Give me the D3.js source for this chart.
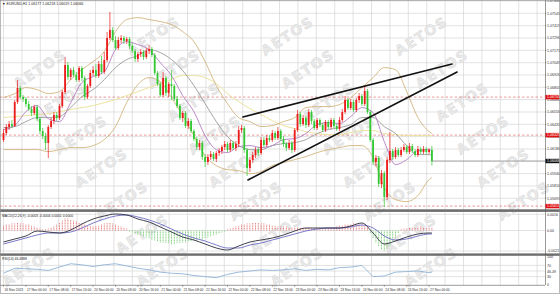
<!DOCTYPE html>
<html><head><meta charset="utf-8">
<script src="https://cdn.jsdelivr.net/npm/d3@7"></script>
<style>html,body{margin:0;padding:0;background:#fff;}svg{display:block;}</style>
</head><body>
<svg id="c" width="560" height="294"></svg>
<script>
// ---------------- DATA ----------------
const titleText = "EURUSD,H1  1.06177 1.06218 1.06019 1.06066";
const macdTitle = "MACD(12,26,9) -0.0003 -0.0004 0.0001 0.0000";
const rsiTitle = "RSI(14) 46.4888";

// hourly candles [open, high, low, close]
const candles = [
[1.06276,1.06386,1.06256,1.06346],[1.06346,1.06436,1.06326,1.06406],[1.06406,1.06466,1.06376,1.06436],[1.06436,1.06476,1.06396,1.06416],
[1.06416,1.06676,1.06406,1.06656],[1.06656,1.06876,1.06636,1.06796],[1.06796,1.06816,1.06686,1.06706],[1.06706,1.06726,1.06656,1.06686],
[1.06686,1.06706,1.06606,1.06636],[1.06636,1.06666,1.06566,1.06586],[1.06586,1.06616,1.06516,1.06546],[1.06546,1.06626,1.06526,1.06606],
[1.06606,1.06626,1.06466,1.06486],[1.06486,1.06506,1.06336,1.06366],[1.06366,1.06396,1.06286,1.06316],[1.06316,1.06346,1.06176,1.06246],
[1.06246,1.06426,1.06096,1.06406],[1.06406,1.06496,1.06386,1.06466],[1.06466,1.06556,1.06436,1.06526],[1.06526,1.06556,1.06466,1.06496],
[1.06496,1.06636,1.06476,1.06616],[1.06616,1.06776,1.06596,1.06756],[1.06756,1.07106,1.06736,1.07026],[1.07026,1.07056,1.06876,1.06906],
[1.06906,1.06996,1.06876,1.06976],[1.06976,1.07006,1.06906,1.06926],[1.06926,1.06956,1.06856,1.06876],[1.06876,1.07016,1.06856,1.06996],
[1.06996,1.07016,1.06866,1.06896],[1.06896,1.06916,1.06676,1.06706],[1.06706,1.06836,1.06686,1.06816],[1.06816,1.06976,1.06796,1.06946],
[1.06946,1.07016,1.06916,1.06976],[1.06976,1.07036,1.06896,1.06916],[1.06916,1.07066,1.06896,1.07036],[1.07036,1.07116,1.06936,1.06956],
[1.06956,1.07156,1.06936,1.07076],[1.07076,1.07356,1.07056,1.07296],[1.07296,1.07556,1.07276,1.07376],[1.07376,1.07406,1.07256,1.07276],
[1.07276,1.07316,1.07176,1.07196],[1.07196,1.07306,1.07176,1.07276],[1.07276,1.07326,1.07246,1.07296],[1.07296,1.07316,1.07236,1.07266],
[1.07266,1.07306,1.07236,1.07286],[1.07286,1.07306,1.07186,1.07216],[1.07216,1.07246,1.07146,1.07166],[1.07166,1.07186,1.07056,1.07086],
[1.07086,1.07156,1.07056,1.07136],[1.07136,1.07186,1.07106,1.07156],[1.07156,1.07176,1.07076,1.07106],[1.07106,1.07196,1.07086,1.07166],
[1.07166,1.07226,1.07136,1.07186],[1.07186,1.07206,1.07106,1.07126],[1.07126,1.07146,1.06926,1.06946],[1.06946,1.06966,1.06816,1.06836],
[1.06836,1.06856,1.06706,1.06726],[1.06726,1.06956,1.06706,1.06896],[1.06896,1.06916,1.06716,1.06746],[1.06746,1.06856,1.06706,1.06836],
[1.06836,1.06976,1.06676,1.06816],[1.06816,1.06836,1.06666,1.06686],[1.06686,1.06716,1.06596,1.06616],[1.06616,1.06636,1.06476,1.06496],
[1.06496,1.06566,1.06456,1.06546],[1.06546,1.06566,1.06396,1.06416],[1.06416,1.06496,1.06386,1.06466],[1.06466,1.06486,1.06346,1.06366],
[1.06366,1.06386,1.06266,1.06286],[1.06286,1.06306,1.06176,1.06206],[1.06206,1.06276,1.06176,1.06246],[1.06246,1.06266,1.06076,1.06106],
[1.06106,1.06136,1.06006,1.06056],[1.06056,1.06136,1.06026,1.06106],[1.06106,1.06166,1.06076,1.06136],[1.06136,1.06156,1.06066,1.06086],
[1.06086,1.06166,1.06056,1.06146],[1.06146,1.06196,1.06116,1.06166],[1.06166,1.06226,1.06136,1.06206],[1.06206,1.06266,1.06176,1.06236],
[1.06236,1.06256,1.06156,1.06176],[1.06176,1.06276,1.06156,1.06246],[1.06246,1.06266,1.06176,1.06196],[1.06196,1.06266,1.06166,1.06236],
[1.06236,1.06416,1.06206,1.06376],[1.06376,1.06426,1.06346,1.06396],[1.06396,1.06416,1.06146,1.06176],[1.06176,1.06196,1.05916,1.05996],
[1.05996,1.06106,1.05956,1.06076],[1.06076,1.06156,1.06046,1.06126],[1.06126,1.06206,1.06096,1.06176],[1.06176,1.06206,1.06116,1.06146],
[1.06146,1.06306,1.06126,1.06276],[1.06276,1.06306,1.06206,1.06226],[1.06226,1.06326,1.06206,1.06296],[1.06296,1.06326,1.06256,1.06276],
[1.06276,1.06376,1.06256,1.06346],[1.06346,1.06366,1.06276,1.06296],[1.06296,1.06406,1.06276,1.06366],[1.06366,1.06386,1.06266,1.06286],
[1.06286,1.06316,1.06206,1.06236],[1.06236,1.06256,1.06166,1.06196],[1.06196,1.06276,1.06176,1.06246],[1.06246,1.06266,1.06146,1.06176],
[1.06176,1.06396,1.06156,1.06376],[1.06376,1.06576,1.06356,1.06536],[1.06536,1.06556,1.06406,1.06436],[1.06436,1.06526,1.06416,1.06496],
[1.06496,1.06516,1.06396,1.06426],[1.06426,1.06586,1.06406,1.06556],[1.06556,1.06576,1.06436,1.06466],[1.06466,1.06486,1.06376,1.06396],
[1.06396,1.06496,1.06376,1.06476],[1.06476,1.06496,1.06406,1.06426],[1.06426,1.06446,1.06356,1.06376],[1.06376,1.06476,1.06356,1.06456],
[1.06456,1.06476,1.06386,1.06406],[1.06406,1.06496,1.06386,1.06476],[1.06476,1.06496,1.06396,1.06416],[1.06416,1.06436,1.06366,1.06386],
[1.06386,1.06506,1.06366,1.06476],[1.06476,1.06586,1.06456,1.06556],[1.06556,1.06716,1.06536,1.06676],[1.06676,1.06696,1.06576,1.06596],
[1.06596,1.06686,1.06576,1.06656],[1.06656,1.06676,1.06556,1.06576],[1.06576,1.06696,1.06556,1.06676],[1.06676,1.06746,1.06646,1.06716],
[1.06716,1.06736,1.06616,1.06636],[1.06636,1.06816,1.06616,1.06766],[1.06766,1.06786,1.06536,1.06556],[1.06556,1.06576,1.06256,1.06276],
[1.06276,1.06296,1.06026,1.06056],[1.06056,1.06126,1.06016,1.06096],[1.06096,1.06116,1.05806,1.05836],[1.05836,1.05976,1.05796,1.05946],
[1.05946,1.05966,1.05606,1.05706],[1.05706,1.06106,1.05676,1.06076],[1.06076,1.06356,1.06046,1.06166],[1.06166,1.06186,1.06076,1.06106],
[1.06106,1.06206,1.06086,1.06176],[1.06176,1.06196,1.06106,1.06126],[1.06126,1.06206,1.06106,1.06176],[1.06176,1.06236,1.06156,1.06206],
[1.06206,1.06226,1.06136,1.06156],[1.06156,1.06246,1.06136,1.06216],[1.06216,1.06236,1.06146,1.06166],[1.06166,1.06186,1.06106,1.06126],
[1.06126,1.06216,1.06106,1.06186],[1.06186,1.06206,1.06136,1.06156],[1.06156,1.06216,1.06136,1.06186],[1.06186,1.06206,1.06136,1.06156],
[1.06156,1.06196,1.06136,1.06176],[1.06177,1.06218,1.06019,1.06066]
];

const timeLabels = ["16 Nov 2023","17 Nov 00:00","17 Nov 08:00","17 Nov 16:00","20 Nov 00:00","20 Nov 08:00","20 Nov 16:00",
"21 Nov 00:00","21 Nov 08:00","21 Nov 16:00","22 Nov 00:00","22 Nov 08:00","22 Nov 16:00","23 Nov 00:00","23 Nov 08:00",
"23 Nov 16:00","24 Nov 00:00","24 Nov 08:00","24 Nov 16:00","27 Nov 00:00"];
const labelEvery = 8; // bars between time labels

const priceTicks = [1.07666,1.07543,1.07419,1.07296,1.07173,1.07049,1.06926,1.06803,1.06680,1.06556,1.06433,1.06310,1.06186,1.06063,1.05940,1.05816,1.05693];

// indicator readings sampled every 4 bars, plus the last bar
const sampleStep = 4;
const fastMA = [1.0638,1.0642,1.0656,1.0662,1.0649,1.0646,1.0665,1.0685,1.0691,1.0696,1.0718,1.0726,1.0723,1.0718,1.0705,1.0692,1.0672,1.0656,1.0632,1.0618,1.0615,1.0621,1.0622,1.0620,1.0622,1.0628,1.0629,1.0634,1.0643,1.0645,1.0644,1.0651,1.0660,1.0655,1.0626,1.0603,1.0608,1.0617,1.0618,1.0617];
const slowMA = [1.0640,1.0641,1.0646,1.0650,1.0650,1.0651,1.0660,1.0671,1.0678,1.0688,1.0700,1.0708,1.0712,1.0718,1.0715,1.0708,1.0697,1.0682,1.0664,1.0646,1.0631,1.0622,1.0618,1.0618,1.0622,1.0624,1.0625,1.0628,1.0634,1.0638,1.0640,1.0643,1.0650,1.0650,1.0641,1.0634,1.0622,1.0613,1.0613,1.0612];
const bbUpper = [1.0670,1.0674,1.0680,1.0678,1.0674,1.0676,1.0688,1.0698,1.0706,1.0716,1.0736,1.0748,1.0750,1.0748,1.0746,1.0743,1.0736,1.0726,1.0706,1.0682,1.0664,1.0650,1.0646,1.0641,1.0642,1.0646,1.0650,1.0660,1.0661,1.0661,1.0663,1.0670,1.0680,1.0690,1.0700,1.0698,1.0676,1.0650,1.0636,1.0634];
const bbLower = [1.0618,1.0618,1.0618,1.0618,1.0616,1.0618,1.0620,1.0620,1.0622,1.0628,1.0641,1.0665,1.0683,1.0690,1.0686,1.0670,1.0652,1.0632,1.0612,1.0602,1.0598,1.0597,1.0594,1.0596,1.0602,1.0605,1.0608,1.0611,1.0615,1.0618,1.0620,1.0622,1.0622,1.0610,1.0580,1.0568,1.0566,1.0572,1.0588,1.0590];
const longMA = [1.0650,1.0651,1.0652,1.0653,1.0654,1.0656,1.0658,1.0660,1.0662,1.0665,1.0668,1.0672,1.0676,1.0680,1.0684,1.0688,1.0692,1.0692,1.0690,1.0684,1.0674,1.0666,1.0659,1.0653,1.0647,1.0642,1.0639,1.0636,1.0634,1.0633,1.0633,1.0635,1.0637,1.0637,1.0634,1.0633,1.0632,1.0632,1.0632,1.0632];

const macdMain = [-0.00115,-0.00085,-0.00055,-0.00005,-0.00015,-0.00025,0.00005,0.00065,0.00115,0.00145,0.00165,0.00155,0.00115,0.00085,0.00035,-0.00015,-0.00065,-0.00095,-0.00135,-0.00175,-0.00195,-0.00155,-0.00115,-0.00095,-0.00075,-0.00045,-0.00005,0.00025,0.00025,0.00025,0.00025,0.00045,0.00075,-0.00025,-0.00135,-0.00105,-0.00065,-0.00035,-0.00025,-0.00025];
const macdSignal = [-0.00135,-0.00105,-0.00075,-0.00045,-0.00025,-0.00025,-0.00015,0.00025,0.00075,0.00115,0.00145,0.00155,0.00135,0.00105,0.00065,0.00015,-0.00035,-0.00075,-0.00105,-0.00145,-0.00175,-0.00175,-0.00145,-0.00125,-0.00095,-0.00065,-0.00035,-0.00005,0.00015,0.00025,0.00025,0.00035,0.00055,0.00025,-0.00055,-0.00095,-0.00085,-0.00055,-0.00035,-0.00035];
const macdHist = [
0.0005,0.0006,0.0006,0.0007,0.0007,0.0008,0.0007,0.0007,0.0006,0.0006,0.0005,0.0004,
0.0003,0.0002,0.0001,0.0001,0.0002,0.0003,0.0004,
0.0006,0.0008,0.0010,0.0012,0.0012,0.0011,0.0010,0.0009,0.0008,
0.0007,0.0006,0.0005,0.0005,0.0004,0.0004,0.0005,
0.0006,0.0007,0.0008,0.0008,0.0007,0.0006,0.0005,0.0004,0.0003,0.0002,
-0.0001,-0.0002,-0.0003,-0.0004,-0.0005,-0.0006,-0.0007,-0.0008,-0.0009,-0.0010,-0.0011,-0.0012,-0.0012,-0.0013,-0.0013,-0.0014,-0.0014,-0.0013,-0.0013,-0.0012,-0.0012,-0.0011,-0.0011,-0.0010,-0.0010,-0.0009,-0.0009,-0.0008,-0.0007,-0.0006,-0.0005,-0.0004,-0.0003,-0.0002,-0.0001,
0.0001,0.0002,0.0003,0.0004,0.0005,0.0006,0.0006,0.0007,0.0007,0.0008,0.0008,0.0008,0.0007,0.0007,0.0006,0.0006,0.0005,0.0005,0.0004,0.0004,
0.0004,0.0004,0.0003,0.0003,0.0003,0.0003,0.0003,0.0003,0.0003,0.0003,0.0002,0.0002,0.0002,0.0002,0.0002,0.0002,0.0003,0.0003,0.0003,
0.0004,0.0005,0.0005,0.0006,0.0006,0.0006,0.0007,0.0007,0.0006,0.0006,0.0005,0.0004,
-0.0003,-0.0008,-0.0012,-0.0016,-0.0019,-0.0020,-0.0018,-0.0015,-0.0011,-0.0007,-0.0003,
0.0001,0.0002,0.0002,0.0003,0.0003,0.0003,0.0004,0.0004,0.0003,0.0003,0.0003,0.0003];
const macdTicks = [0.00162, 0, -0.00205];
const macdTickLabels = ["0.0016", "0.00", "-0.0021"];

const rsiValues = [42,60,58,56,52,64,76,72,66,72,76,68,60,54,46,42,40,34,30,26,38,46,50,54,52,54,58,52,56,54,62,64,70,30,32,46,48,50,44,46.49];
const rsiTicks = [100, 70, 30, 0];
const rsiLevels = [70, 30];

const levelLines = [1.06705, 1.06325, 1.05615];
// trendlines: [startBar, startPrice, endBar, endPrice]
const trendLines = [[85.5, 1.06506, 160.2, 1.07036], [87.3, 1.05876, 162.0, 1.06956]];

// ---------------- LAYOUT ----------------
const W = 560, H = 294;
const plotR = 545;
const main = {top: 0, bot: 209};
const macdP = {top: 212.5, bot: 253};
const rsiP = {top: 256, bot: 285};
const barSpacing = 2.8, firstBarX = 3.5;
const gridStepX = 18.4;

const svg = d3.select("#c");
const x = d3.scaleLinear().domain([0, 1]).range([firstBarX, firstBarX + barSpacing]);
const yMain = d3.scaleLinear().domain([1.05586, 1.07676]).range([main.bot, main.top]);
const yMacd = d3.scaleLinear().domain([-0.00225, 0.00185]).range([253, 212]);
const yRsi = d3.scaleLinear().domain([0, 100]).range([285, 257]);

const N = candles.length;
const sampleBars = d3.range(0, N, sampleStep); sampleBars.push(N - 1);

svg.append("rect").attr("width", W).attr("height", H).attr("fill", "#fff");

const defs = svg.append("defs");
[["cMain", main], ["cMacd", macdP], ["cRsi", rsiP]].forEach(([id, p]) => {
  defs.append("clipPath").attr("id", id).append("rect")
    .attr("x", 0).attr("y", p.top).attr("width", plotR).attr("height", p.bot - p.top);
});

// grid
const grid = svg.append("g").attr("stroke", "#d6d6d6").attr("stroke-width", 0.7);
const gx = d3.range(0, 40).map(k => firstBarX + gridStepX * k).filter(v => v < plotR);
[main, macdP, rsiP].forEach(p => {
  gx.forEach(v => grid.append("line").attr("x1", v).attr("x2", v).attr("y1", p.top).attr("y2", p.bot));
});
priceTicks.forEach(p => grid.append("line").attr("x1", 0).attr("x2", plotR).attr("y1", yMain(p)).attr("y2", yMain(p)));
macdTicks.forEach(v => grid.append("line").attr("x1", 0).attr("x2", plotR).attr("y1", yMacd(v)).attr("y2", yMacd(v)));
rsiLevels.concat([50]).forEach(v => grid.append("line").attr("x1", 0).attr("x2", plotR).attr("y1", yRsi(v)).attr("y2", yRsi(v)));

// watermark (only whole words, none cut by the picture edge)
const wm = svg.append("g").attr("fill", "#e9e9e9").attr("stroke", "#d2d2d2").attr("stroke-width", 0.35)
  .attr("font-family", "DejaVu Sans").attr("font-weight", "bold").attr("font-size", 14)
  .attr("letter-spacing", 1.5).attr("text-anchor", "middle");
for (let k = -3; k <= 5; k++) {
  for (let j = -2; j <= 10; j++) {
    const cx = 22 + 134 * k + 20.5 * j, cy = 35 + 33 * j;
    if (cx < 27 || cx > 533 || cy < 19 || cy > 276) continue;
    wm.append("text").attr("transform", `translate(${cx},${cy + 5}) rotate(-33)`).text("AETOS");
  }
}

// ---- main panel ----
const gm = svg.append("g").attr("clip-path", "url(#cMain)");
levelLines.forEach(p => gm.append("line").attr("x1", 0).attr("x2", plotR)
  .attr("y1", yMain(p)).attr("y2", yMain(p)).attr("stroke", "#e27070").attr("stroke-width", 0.7).attr("stroke-dasharray", "2.5,2"));

const lineMain = d3.line().x((d, i) => x(sampleBars[i])).y(d => yMain(d)).curve(d3.curveMonotoneX);
[[longMA, "#ece3a0", 1], [bbUpper, "#d3b47e", 0.9], [bbLower, "#d3b47e", 0.9],
 [slowMA, "#9a9a9a", 0.9], [fastMA, "#b27cc2", 0.9]].forEach(([arr, col, w]) => {
  gm.append("path").attr("d", lineMain(arr)).attr("fill", "none").attr("stroke", col).attr("stroke-width", w);
});

const up = "#ec1c1c", dn = "#34c934";
const cg = gm.append("g");
candles.forEach((c, i) => {
  const [o, h, l, cl] = c;
  const col = cl >= o ? up : dn;
  const cx = x(i);
  cg.append("line").attr("x1", cx).attr("x2", cx).attr("y1", yMain(h)).attr("y2", yMain(l))
    .attr("stroke", col).attr("stroke-width", 0.7);
  const y1 = yMain(Math.max(o, cl)), y2 = yMain(Math.min(o, cl));
  cg.append("rect").attr("x", cx - 0.9).attr("width", 1.8).attr("y", y1).attr("height", Math.max(0.7, y2 - y1)).attr("fill", col);
});

// bid line
const last = candles[N - 1][3];
gm.append("line").attr("x1", x(N - 1)).attr("x2", plotR).attr("y1", yMain(last)).attr("y2", yMain(last))
  .attr("stroke", "#777").attr("stroke-width", 0.6);

// trendlines
trendLines.forEach(t => gm.append("line").attr("x1", x(t[0])).attr("y1", yMain(t[1])).attr("x2", x(t[2])).attr("y2", yMain(t[3]))
  .attr("stroke", "#111").attr("stroke-width", 1.6).attr("stroke-linecap", "round"));

// ---- MACD panel ----
const gmac = svg.append("g").attr("clip-path", "url(#cMacd)");
macdHist.forEach((v, i) => {
  gmac.append("line").attr("x1", x(i)).attr("x2", x(i)).attr("y1", yMacd(0)).attr("y2", yMacd(v))
    .attr("stroke", v >= 0 ? "#e46a6a" : "#6cc96c").attr("stroke-width", 0.9).attr("stroke-dasharray", "1,0.6");
});
const lineMacd = d3.line().x((d, i) => x(sampleBars[i])).y(d => yMacd(d)).curve(d3.curveMonotoneX);
gmac.append("path").attr("d", lineMacd(macdSignal)).attr("fill", "none").attr("stroke", "#6b6bc4").attr("stroke-width", 0.9);
gmac.append("path").attr("d", lineMacd(macdMain)).attr("fill", "none").attr("stroke", "#2b2b3a").attr("stroke-width", 0.9);

// ---- RSI panel ----
const grsi = svg.append("g").attr("clip-path", "url(#cRsi)");
const lineRsi = d3.line().x((d, i) => x(sampleBars[i])).y(d => yRsi(d));
grsi.append("path").attr("d", lineRsi(rsiValues)).attr("fill", "none").attr("stroke", "#8fb3d8").attr("stroke-width", 0.9);

// separators
[[209.3, 2.6], [253.4, 2.4]].forEach(([yy, hh]) =>
  svg.append("rect").attr("x", 0).attr("y", yy).attr("width", W).attr("height", hh).attr("fill", "#6e6e6e"));

// right axis
svg.append("line").attr("x1", plotR + 0.5).attr("x2", plotR + 0.5).attr("y1", 0).attr("y2", rsiP.bot)
  .attr("stroke", "#555").attr("stroke-width", 0.6);
svg.append("line").attr("x1", 0).attr("x2", plotR).attr("y1", rsiP.bot + 0.3).attr("y2", rsiP.bot + 0.3)
  .attr("stroke", "#555").attr("stroke-width", 0.6);

const fontF = "Liberation Sans, Arial, sans-serif";
const ax = svg.append("g").attr("font-family", fontF).attr("font-size", 3.6).attr("fill", "#333");
priceTicks.forEach(p => {
  if (Math.abs(yMain(p) - yMain(last)) < 4) return;
  ax.append("line").attr("x1", plotR).attr("x2", plotR + 1.5).attr("y1", yMain(p)).attr("y2", yMain(p)).attr("stroke", "#555").attr("stroke-width", 0.5);
  ax.append("text").attr("x", plotR + 2).attr("y", yMain(p) + 1.3).text(p.toFixed(5));
});
macdTicks.forEach((v, i) => ax.append("text").attr("x", plotR + 2).attr("y", yMacd(v) + 1.3).text(macdTickLabels[i]));
rsiTicks.forEach(v => ax.append("text").attr("x", plotR + 2).attr("y", Math.min(yRsi(v) + 1.3, 285.5)).text(v));
ax.append("text").attr("x", plotR + 2).attr("y", yRsi(rsiValues[rsiValues.length - 1]) + 1.3).text(rsiValues[rsiValues.length - 1].toFixed(2));

// price tags
function tag(p, fill) {
  const yy = yMain(p);
  svg.append("rect").attr("x", plotR + 0.5).attr("y", yy - 2.2).attr("width", 14).attr("height", 4.4).attr("fill", fill);
  svg.append("text").attr("x", plotR + 2).attr("y", yy + 1.3).attr("font-family", fontF).attr("font-size", 3.6)
    .attr("fill", "#fff").text(p.toFixed(5));
}
levelLines.forEach(p => tag(p, "#e01010"));
tag(last, "#111");

// titles
svg.append("text").attr("x", 2).attr("y", 5).attr("font-family", fontF).attr("font-size", 3.6).attr("fill", "#222").text("\u25BC " + titleText);
svg.append("text").attr("x", 2).attr("y", macdP.top + 4).attr("font-family", fontF).attr("font-size", 3.4).attr("fill", "#222").text(macdTitle);
svg.append("text").attr("x", 2).attr("y", rsiP.top + 4).attr("font-family", fontF).attr("font-size", 3.4).attr("fill", "#222").text(rsiTitle);

// time axis
const tx = svg.append("g").attr("font-family", fontF).attr("font-size", 3.3).attr("fill", "#333");
timeLabels.forEach((t, k) => {
  const xx = x(k * labelEvery);
  tx.append("line").attr("x1", xx).attr("x2", xx).attr("y1", rsiP.bot).attr("y2", rsiP.bot + 1.8).attr("stroke", "#555").attr("stroke-width", 0.5);
  tx.append("text").attr("x", xx + 1).attr("y", 290.5).text(t);
});

// outer border
svg.append("rect").attr("x", 0.3).attr("y", 0.3).attr("width", W - 0.6).attr("height", H - 0.6)
  .attr("fill", "none").attr("stroke", "#8a8a8a").attr("stroke-width", 0.6);
</script>
</body></html>
